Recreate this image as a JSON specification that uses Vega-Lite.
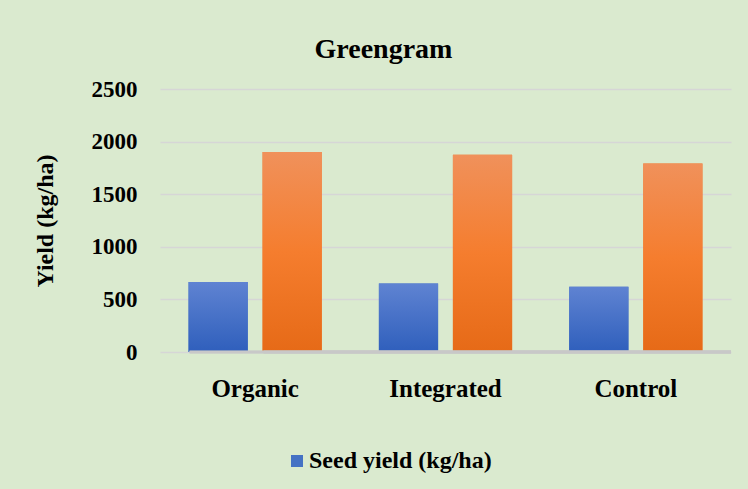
{
  "$schema": "https://vega.github.io/schema/vega-lite/v6.json",
  "width": 571,
  "height": 263,
  "autosize": {"type": "none"},
  "padding": {"left": 160, "top": 89, "right": 17, "bottom": 137},
  "background": "#DAEACF",
  "title": {
    "text": "Greengram",
    "anchor": "middle",
    "frame": "group",
    "dx": -62,
    "offset": 14
  },
  "config": {
    "view": {"stroke": null},
    "font": "Liberation Serif",
    "title": {"font": "Liberation Serif", "fontWeight": "bold", "fontSize": 28, "color": "#000000"},
    "legend": {"labelFont": "Liberation Serif", "labelFontWeight": "bold", "labelFontSize": 24, "labelColor": "#000000", "labelLimit": 400}
  },
  "data": {
    "values": [
      {"treatment": "Organic", "series": "Seed yield (kg/ha)", "yield": 665},
      {"treatment": "Organic", "series": "Haulm yield (kg/ha)", "yield": 1901},
      {"treatment": "Integrated", "series": "Seed yield (kg/ha)", "yield": 650},
      {"treatment": "Integrated", "series": "Haulm yield (kg/ha)", "yield": 1876},
      {"treatment": "Control", "series": "Seed yield (kg/ha)", "yield": 621},
      {"treatment": "Control", "series": "Haulm yield (kg/ha)", "yield": 1793}
    ]
  },
  "encoding": {
    "x": {
      "field": "treatment",
      "type": "nominal",
      "scale": {"domain": ["Organic", "Integrated", "Control"], "paddingInner": 0.3, "paddingOuter": 0.15},
      "axis": {
        "title": null,
        "labelAngle": 0,
        "labelFont": "Liberation Serif",
        "labelFontWeight": "bold",
        "labelFontSize": 25,
        "labelColor": "#000000",
        "labelPadding": 24,
        "ticks": false,
        "domain": false,
        "grid": false
      }
    },
    "xOffset": {
      "field": "series",
      "type": "nominal",
      "scale": {"domain": ["Seed yield (kg/ha)", "Haulm yield (kg/ha)"], "paddingInner": 0.2, "paddingOuter": 0}
    },
    "y": {
      "field": "yield",
      "type": "quantitative",
      "scale": {"domain": [0, 2500]},
      "axis": {
        "title": "Yield (kg/ha)",
        "titleFont": "Liberation Serif",
        "titleFontWeight": "bold",
        "titleFontSize": 24,
        "titleColor": "#000000",
        "titlePadding": 34,
        "values": [0, 500, 1000, 1500, 2000, 2500],
        "format": "d",
        "labelFont": "Liberation Serif",
        "labelFontWeight": "bold",
        "labelFontSize": 23,
        "labelColor": "#000000",
        "labelPadding": 23,
        "ticks": false,
        "domain": false,
        "grid": true,
        "gridColor": "#D6D6D6",
        "gridWidth": 1.5
      }
    }
  },
  "layer": [
    {
      "mark": {"type": "bar"},
      "encoding": {
        "color": {
          "field": "series",
          "type": "nominal",
          "scale": {
            "domain": ["Seed yield (kg/ha)", "Haulm yield (kg/ha)"],
            "range": ["#4472C4", "#ED7D31"]
          },
          "legend": {
            "values": ["Seed yield (kg/ha)"],
            "title": null,
            "orient": "none",
            "legendX": 125,
            "legendY": 360,
            "symbolType": "square",
            "symbolSize": 144,
            "symbolStrokeWidth": 0,
            "symbolOpacity": 1,
            "labelFont": "Liberation Serif",
            "labelFontWeight": "bold",
            "labelFontSize": 24,
            "labelColor": "#000000",
            "labelLimit": 400,
            "labelOffset": 0,
            "padding": 0
          }
        }
      }
    },
    {
      "transform": [{"filter": "datum.series === 'Seed yield (kg/ha)'"}],
      "mark": {
        "type": "bar",
        "color": {"gradient": "linear", "x1": 0, "y1": 0, "x2": 0, "y2": 1, "stops": [{"offset": 0, "color": "#5F83D2"}, {"offset": 1, "color": "#2F5FBC"}]}
      }
    },
    {
      "transform": [{"filter": "datum.series === 'Haulm yield (kg/ha)'"}],
      "mark": {
        "type": "bar",
        "color": {"gradient": "linear", "x1": 0, "y1": 0, "x2": 0, "y2": 1, "stops": [{"offset": 0, "color": "#F0915B"}, {"offset": 0.5, "color": "#F57D2E"}, {"offset": 1, "color": "#E66A17"}]}
      }
    },
    {
      "mark": {"type": "rule", "color": "#C8C8C8", "strokeWidth": 2.5},
      "encoding": {"y": {"datum": 0}, "x": {"value": 0}, "x2": {"value": "width"}}
    }
  ]
}
